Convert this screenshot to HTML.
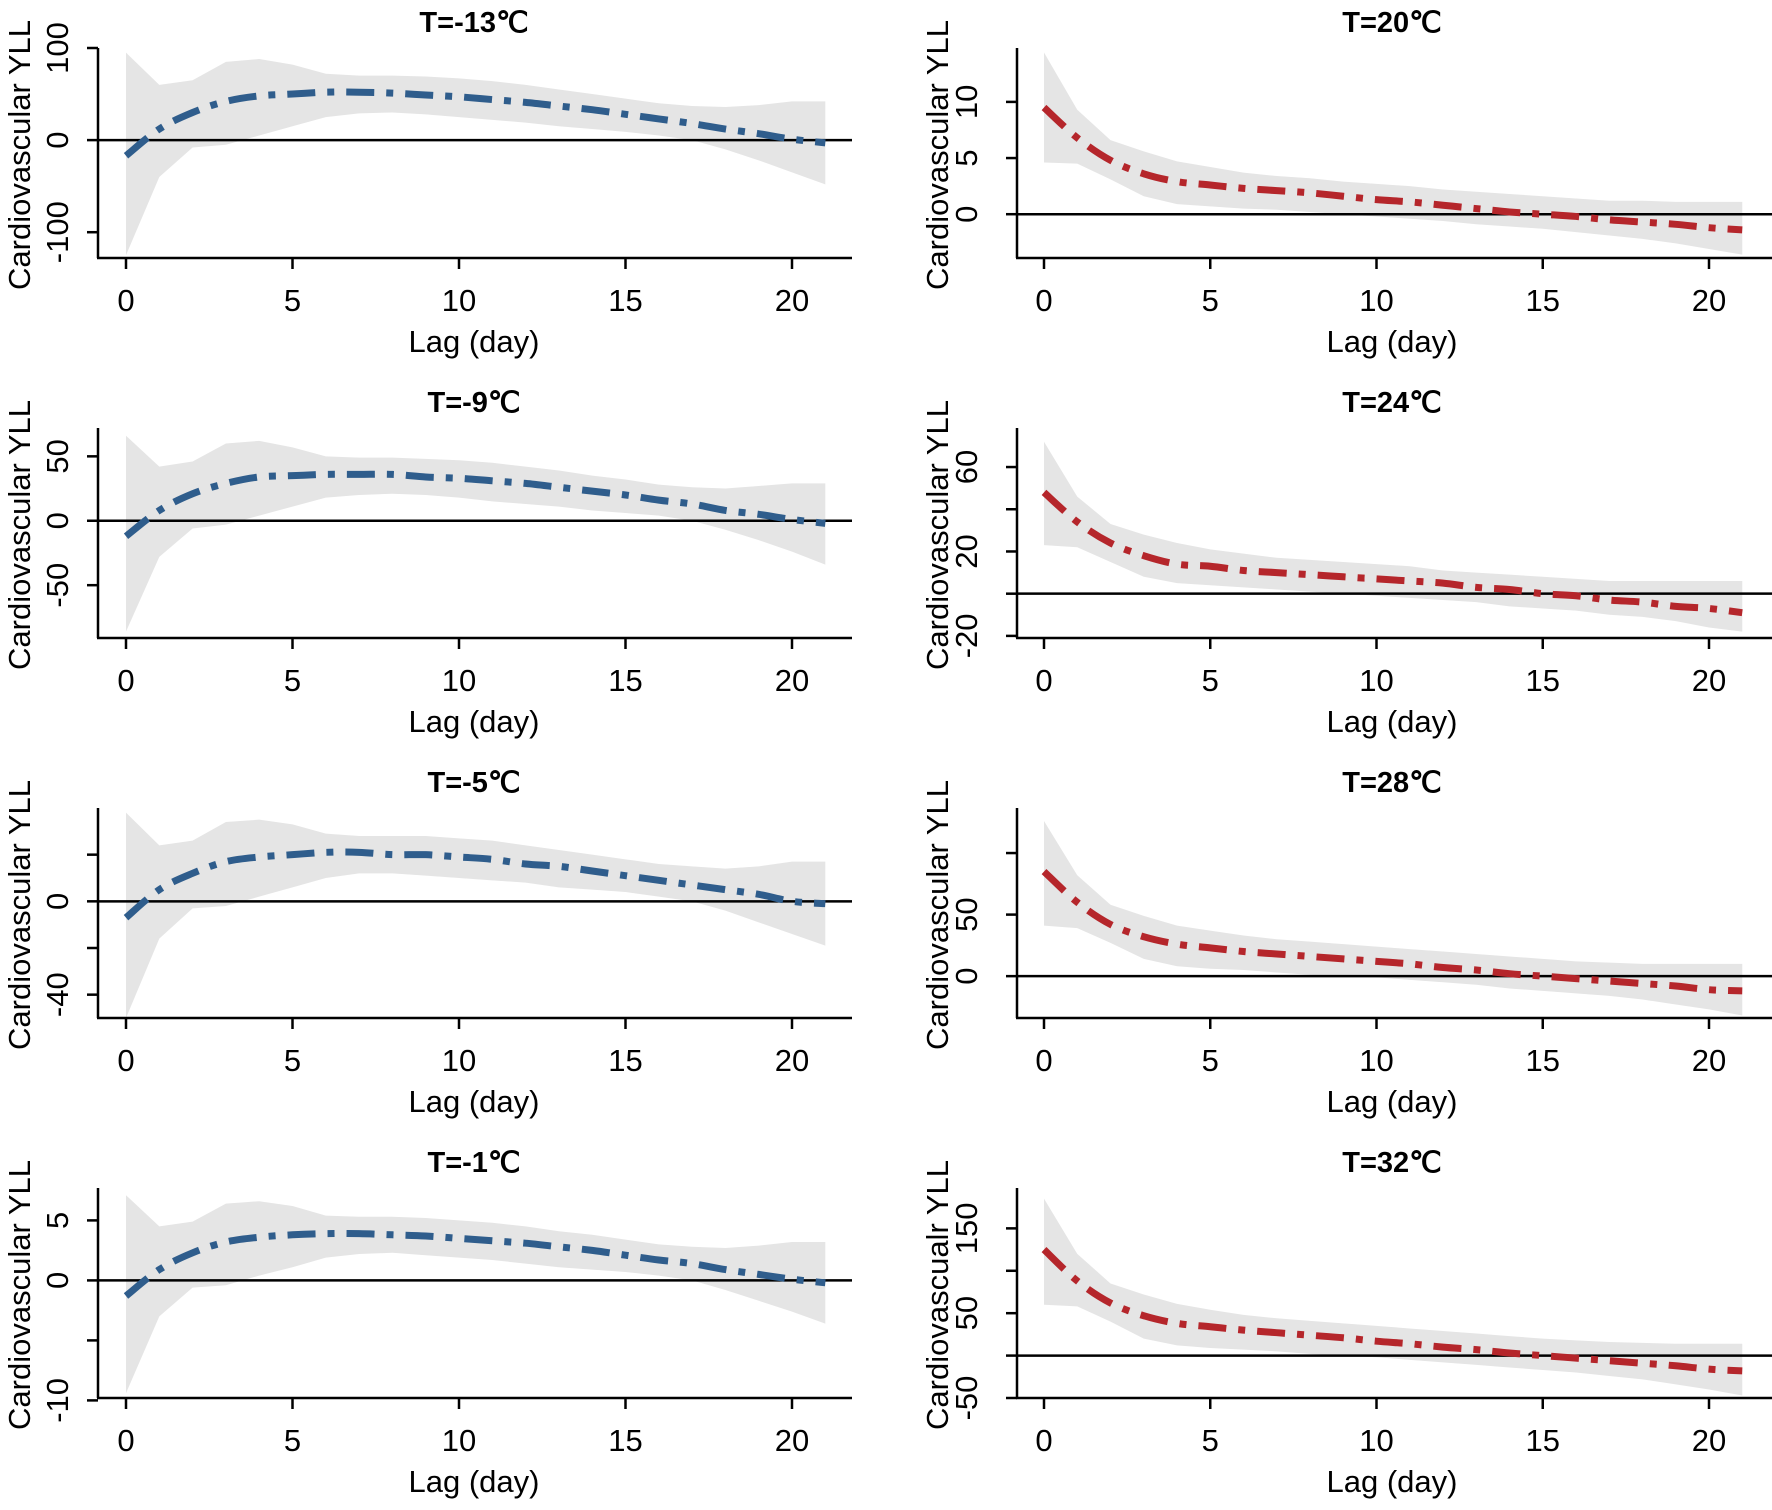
<!DOCTYPE html>
<html><head><meta charset="utf-8"><style>
html,body{margin:0;padding:0;background:#fff;}
svg{display:block;font-family:"Liberation Sans",Arial,sans-serif;}
</style></head><body>
<svg id="chart" width="1772" height="1510" viewBox="0 0 1772 1510" xmlns="http://www.w3.org/2000/svg"></svg>
<script>
// x categories (lag days)
const lags = [0,1,2,3,4,5,6,7,8,9,10,11,12,13,14,15,16,17,18,19,20,21];
const xTicks = [0,5,10,15,20];

// T=-13
const est_m13 = [-17,12,30,42,48,50,52,52,51,49,47,44,41,37,33,28,23,18,12,7,1,-3];
const hi_m13  = [95,60,65,85,88,82,72,70,70,69,67,64,60,55,50,45,40,37,36,38,42,42];
const lo_m13  = [-125,-40,-8,-5,5,15,25,29,30,28,25,22,19,15,12,9,5,0,-10,-22,-35,-48];
// T=-9
const est_m9 = [-12,8,21,29,34,35,36,36,36,34,33,31,29,26,23,20,16,13,8,5,1,-2];
const hi_m9  = [66,42,46,60,62,57,50,49,49,48,47,45,42,39,35,32,28,26,25,27,29,29];
const lo_m9  = [-86,-28,-6,-3,4,11,18,20,21,20,18,15,13,11,8,6,4,0,-7,-15,-24,-34];
// T=-5
const est_m5 = [-7,5,12,17,19,20,21,21,20,20,19,18,16,15,13,11,9,7,5,3,0,-1];
const hi_m5  = [38,24,26,34,35,33,29,28,28,28,27,26,24,22,20,18,16,15,14,15,17,17];
const lo_m5  = [-50,-16,-3,-2,2,6,10,12,12,11,10,9,8,6,5,4,2,0,-4,-9,-14,-19];
// T=-1
const est_m1 = [-1.3,0.9,2.3,3.2,3.6,3.8,3.9,3.9,3.8,3.7,3.5,3.3,3.1,2.8,2.5,2.1,1.7,1.4,0.9,0.5,0.1,-0.2];
const hi_m1  = [7.1,4.5,4.9,6.4,6.6,6.2,5.4,5.3,5.3,5.2,5.0,4.8,4.5,4.1,3.8,3.4,3.0,2.8,2.7,2.9,3.2,3.2];
const lo_m1  = [-9.4,-3.0,-0.6,-0.4,0.4,1.1,1.9,2.2,2.3,2.1,1.9,1.7,1.4,1.1,0.9,0.7,0.4,0,-0.8,-1.7,-2.6,-3.6];
// T=20
const est_20 = [9.5,6.8,4.8,3.6,2.9,2.6,2.3,2.1,1.9,1.6,1.3,1.1,0.8,0.5,0.2,0,-0.2,-0.5,-0.7,-0.9,-1.2,-1.4];
const hi_20  = [14.4,9.3,6.6,5.6,4.7,4.2,3.7,3.4,3.2,2.9,2.7,2.5,2.2,2.0,1.8,1.6,1.4,1.2,1.2,1.1,1.1,1.1];
const lo_20  = [4.6,4.5,3.1,1.6,0.9,0.7,0.5,0.4,0.2,0,-0.2,-0.4,-0.6,-0.9,-1.1,-1.3,-1.6,-1.9,-2.2,-2.6,-3.1,-3.6];
// T=24
const est_24 = [48,34,24,18,14,13,11,10,9,8,7,6,5,3,2,0,-1,-3,-4,-6,-7,-9];
const hi_24  = [72,46,33,28,24,21,19,17,16,15,14,13,11,10,9,8,7,6,6,6,6,6];
const lo_24  = [23,22,15,8,5,4,3,2,1,0,-1,-2,-3,-4,-6,-7,-8,-10,-11,-13,-16,-18];
// T=28
const est_28 = [85,60,42,32,26,23,20,18,16,14,12,10,7,5,2,0,-2,-4,-6,-8,-11,-12];
const hi_28  = [126,82,58,49,41,37,33,30,28,26,24,22,20,18,16,14,12,11,10,10,10,10];
const lo_28  = [41,39,27,14,8,6,5,3,1,0,-1,-3,-5,-7,-10,-12,-14,-16,-19,-23,-27,-32];
// T=32
const est_32 = [125,88,62,47,38,34,30,27,24,21,17,14,10,7,3,0,-3,-6,-9,-12,-16,-18];
const hi_32  = [185,120,85,72,61,54,48,44,41,38,35,32,29,26,23,20,18,16,15,14,14,14];
const lo_32  = [60,58,40,20,12,9,7,5,2,0,-2,-5,-8,-11,-14,-17,-20,-24,-28,-34,-40,-47];

// y ticks and labels per panel
const yt_m13 = [100,0,-100], yl_m13 = ["100","0","-100"];
const yt_m9 = [50,0,-50], yl_m9 = ["50","0","-50"];
const yt_m5 = [20,0,-20,-40], yl_m5 = ["","0","","-40"];
const yt_m1 = [5,0,-5,-10], yl_m1 = ["5","0","","-10"];
const yt_20 = [10,5,0], yl_20 = ["10","5","0"];
const yt_24 = [60,40,20,0,-20], yl_24 = ["60","","20","","-20"];
const yt_28 = [100,50,0], yl_28 = ["","50","0"];
const yt_32 = [150,100,50,0,-50], yl_32 = ["150","","50","","-50"];

const svg = document.getElementById('chart');
const NS = 'http://www.w3.org/2000/svg';
function mk(tag, attrs, parent){ const e=document.createElementNS(NS,tag); for(const k in attrs) e.setAttribute(k,attrs[k]); parent.appendChild(e); return e; }

function panel(cfg){
  const g = mk('g',{transform:`translate(${cfg.ox},${cfg.oy})`},svg);
  
  
  const L = cfg.left ? {ax:98,x0:126,dx:33.3,right:852,tc:474,ylx:30,tlx:68}
                     : {ax:131,x0:158,dx:33.25,right:886,tc:506,ylx:62,tlx:91};
  const top=48, bot=258;
  const xs = d => L.x0 + d*L.dx;
  const ys = v => top + (cfg.ymax - v)/(cfg.ymax - cfg.ymin)*(bot-top);
  let d = 'M' + lags.map((l,i)=>xs(l)+','+ys(cfg.hi[i])).join(' L');
  for(let i=lags.length-1;i>=0;i--) d += ' L'+xs(lags[i])+','+ys(cfg.lo[i]);
  const band = mk('path',{d:d+'Z',fill:'#e5e5e5',stroke:'none'},g);
  
  
  const zl = mk('line',{x1:L.ax,x2:L.right,y1:ys(0),y2:ys(0),stroke:'#000','stroke-width':2.5},g);
  
  
  const pts = lags.map((l,i)=>[xs(l),ys(cfg.est[i])]);
  let p = 'M'+pts[0][0]+','+pts[0][1];
  for(let i=0;i<pts.length-1;i++){
    const p0=pts[Math.max(0,i-1)],p1=pts[i],p2=pts[i+1],p3=pts[Math.min(pts.length-1,i+2)];
    const c1=[p1[0]+(p2[0]-p0[0])/6,p1[1]+(p2[1]-p0[1])/6];
    const c2=[p2[0]-(p3[0]-p1[0])/6,p2[1]-(p3[1]-p1[1])/6];
    p+=` C${c1[0]},${c1[1]} ${c2[0]},${c2[1]} ${p2[0]},${p2[1]}`;
  }
  const line = mk('path',{d:p,fill:'none',stroke:cfg.color,'stroke-width':7,'stroke-dasharray':'28 12 7 12'},g);
  
  
  const ya = mk('line',{x1:L.ax,x2:L.ax,y1:top,y2:bot,stroke:'#000','stroke-width':2.5},g);
  
  
  const xa = mk('line',{x1:L.ax-1,x2:L.right,y1:bot,y2:bot,stroke:'#000','stroke-width':2.5},g);
  
  
  xTicks.forEach(t=>{
    mk('line',{x1:xs(t),x2:xs(t),y1:bot,y2:bot+11,stroke:'#000','stroke-width':2.5},g);
    const tx = mk('text',{x:xs(t),y:311,'font-size':31,'text-anchor':'middle',fill:'#000'},g);
    tx.textContent = t;
    
    
  });
  cfg.yt.forEach((t,i)=>{
    mk('line',{x1:L.ax-11,x2:L.ax,y1:ys(t),y2:ys(t),stroke:'#000','stroke-width':2.5},g);
    if(cfg.yl[i]){
      const ty = mk('text',{x:0,y:0,'font-size':31,'text-anchor':'middle',fill:'#000',transform:`translate(${L.tlx},${ys(t)}) rotate(-90)`},g);
      ty.textContent = cfg.yl[i];
      
      
    }
  });
  const tt = mk('text',{x:L.tc,y:32,'font-size':29,'font-weight':'bold','text-anchor':'middle',fill:'#000'},g);
  tt.textContent = cfg.title;
  
  
  const xl = mk('text',{x:L.tc,y:352,'font-size':31,'text-anchor':'middle',fill:'#000'},g);
  xl.textContent = 'Lag (day)';
  
  
  const yl = mk('text',{x:0,y:0,'font-size':31,'text-anchor':'middle',fill:'#000',transform:`translate(${L.ylx},155) rotate(-90)`},g);
  yl.textContent = cfg.ylabel;
  
  
}
const BLUE='#2f5d8c', RED='#b5262b';
panel({name:'panel-t-minus-13',left:true,ox:0,oy:0,title:'T=-13℃',ymin:-128,ymax:100,est:est_m13,hi:hi_m13,lo:lo_m13,yt:yt_m13,yl:yl_m13,color:BLUE,ylabel:'Cardiovascular YLL'});
panel({name:'panel-t-minus-9',left:true,ox:0,oy:380,title:'T=-9℃',ymin:-91,ymax:72,est:est_m9,hi:hi_m9,lo:lo_m9,yt:yt_m9,yl:yl_m9,color:BLUE,ylabel:'Cardiovascular YLL'});
panel({name:'panel-t-minus-5',left:true,ox:0,oy:760,title:'T=-5℃',ymin:-50,ymax:40,est:est_m5,hi:hi_m5,lo:lo_m5,yt:yt_m5,yl:yl_m5,color:BLUE,ylabel:'Cardiovascular YLL'});
panel({name:'panel-t-minus-1',left:true,ox:0,oy:1140,title:'T=-1℃',ymin:-9.8,ymax:7.7,est:est_m1,hi:hi_m1,lo:lo_m1,yt:yt_m1,yl:yl_m1,color:BLUE,ylabel:'Cardiovascular YLL'});
panel({name:'panel-t-20',left:false,ox:886,oy:0,title:'T=20℃',ymin:-3.9,ymax:14.8,est:est_20,hi:hi_20,lo:lo_20,yt:yt_20,yl:yl_20,color:RED,ylabel:'Cardiovascular YLL'});
panel({name:'panel-t-24',left:false,ox:886,oy:380,title:'T=24℃',ymin:-21,ymax:78.5,est:est_24,hi:hi_24,lo:lo_24,yt:yt_24,yl:yl_24,color:RED,ylabel:'Cardiovascular YLL'});
panel({name:'panel-t-28',left:false,ox:886,oy:760,title:'T=28℃',ymin:-34,ymax:136.6,est:est_28,hi:hi_28,lo:lo_28,yt:yt_28,yl:yl_28,color:RED,ylabel:'Cardiovascular YLL'});
panel({name:'panel-t-32',left:false,ox:886,oy:1140,title:'T=32℃',ymin:-50,ymax:197.6,est:est_32,hi:hi_32,lo:lo_32,yt:yt_32,yl:yl_32,color:RED,ylabel:'Cardiovascualr YLL'});
</script>
</body></html>
